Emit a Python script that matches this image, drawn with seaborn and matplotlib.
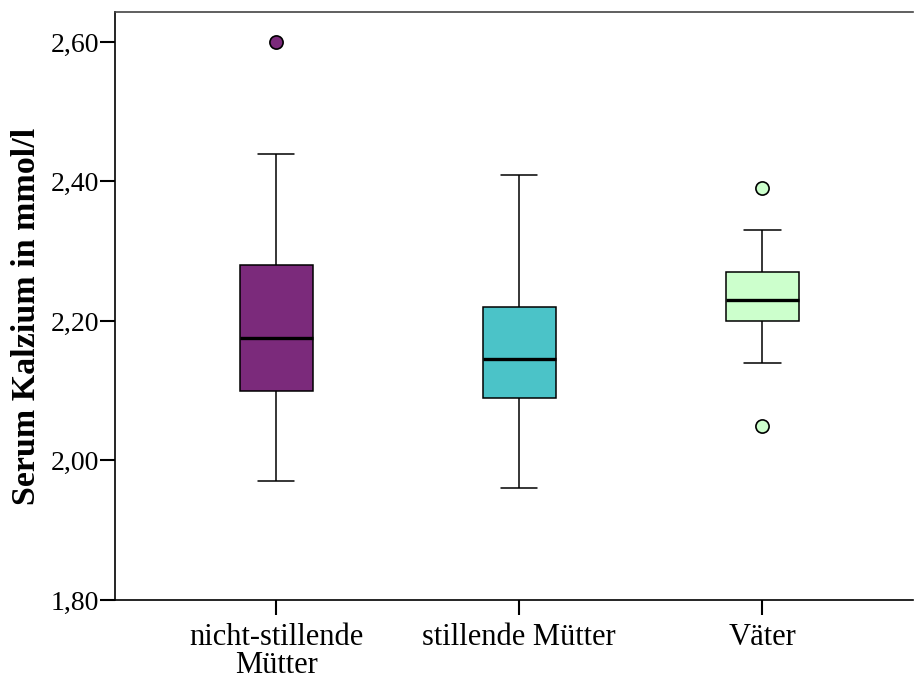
import pandas as pd
import seaborn as sns
import matplotlib.pyplot as plt
from matplotlib.ticker import FuncFormatter

# data: values per group, chosen to reproduce the read box statistics
groups = ["nicht-stillende\nMütter", "stillende Mütter", "Väter"]
nicht_stillende = [1.97, 2.10, 2.10, 2.175, 2.175, 2.28, 2.28, 2.44, 2.60]
stillende = [1.96, 2.09, 2.145, 2.22, 2.41]
vaeter = [2.05, 2.14, 2.20, 2.23, 2.23, 2.23, 2.27, 2.33, 2.39]
colors = ["#7B2A7B", "#4BC3C8", "#CCFFCC"]
yticks = [1.80, 2.00, 2.20, 2.40, 2.60]

df = pd.DataFrame({
    "Gruppe": [groups[0]] * len(nicht_stillende) + [groups[1]] * len(stillende) + [groups[2]] * len(vaeter),
    "Kalzium": nicht_stillende + stillende + vaeter,
})

sns.set_style("white")
plt.rcParams["font.family"] = ["Liberation Serif", "DejaVu Serif"]

fig = plt.figure(figsize=(9.14, 6.82), dpi=100)
ax = fig.add_axes([115 / 914, 82 / 682, 798 / 914, 588 / 682])

sns.boxplot(
    data=df, x="Gruppe", y="Kalzium", hue="Gruppe", palette=colors, legend=False,
    order=groups, width=0.30, whis=1.5, saturation=1, ax=ax,
    linecolor="black", linewidth=1.1,
    medianprops=dict(color="black", linewidth=2.4),
    flierprops=dict(marker="o", markersize=9.5, markeredgecolor="black", markeredgewidth=1.2),
)
# fill fliers with the box colour
for line, c in zip([l for l in ax.lines if l.get_marker() == "o"], colors):
    line.set_markerfacecolor(c)

ax.set_xlim(-0.663, 2.62)
ax.set_ylim(1.80, 2.643)
ax.set_yticks(yticks)
ax.yaxis.set_major_formatter(FuncFormatter(lambda v, p: f"{v:.2f}".replace(".", ",")))
ax.set_xlabel("")
ax.set_ylabel("Serum Kalzium in mmol/l", fontsize=24.5, fontweight="bold", color="black")
ax.yaxis.set_label_coords(-0.0915, 0.483)

for side in ["left", "bottom", "top"]:
    ax.spines[side].set_visible(True)
    ax.spines[side].set_color("black")
    ax.spines[side].set_linewidth(1.2)
ax.spines["top"].set_color("#444444")
ax.spines["right"].set_visible(False)

ax.tick_params(axis="y", which="both", left=True, length=10.5, width=1.5, labelsize=20, pad=1, colors="black")
ax.tick_params(axis="x", which="both", bottom=True, length=10.5, width=1.5, labelsize=22, pad=6, colors="black")
for lab in ax.get_xticklabels():
    lab.set_linespacing(0.95)

fig.savefig("out.png", dpi=100)
